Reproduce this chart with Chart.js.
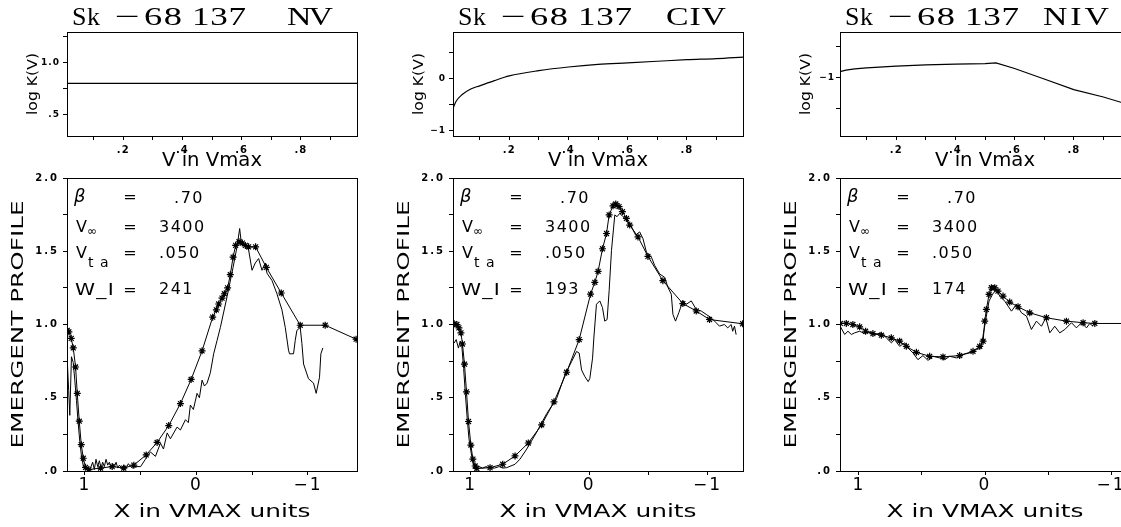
<!DOCTYPE html>
<html>
<head>
<meta charset="utf-8">
<script src="https://cdn.jsdelivr.net/npm/chart.js@4.4.1/dist/chart.umd.min.js"></script>
<style>
  html, body { margin: 0; padding: 0; background: #fff; overflow: hidden; width: 1121px; height: 527px; position: relative; }
  canvas { position: absolute; }
</style>
</head>
<body>
<canvas id="topNV" width="367" height="175" style="left:0px;top:0px"></canvas>
<canvas id="topCIV" width="367" height="175" style="left:386px;top:0px"></canvas>
<canvas id="topNIV" width="367" height="175" style="left:773px;top:0px"></canvas>
<canvas id="botNV" width="367" height="381" style="left:0px;top:146px"></canvas>
<canvas id="botCIV" width="367" height="381" style="left:386px;top:146px"></canvas>
<canvas id="botNIV" width="367" height="381" style="left:773px;top:146px"></canvas>
<script>
// --- top row: log K(V) against V/Vmax ---
const nvV = [0.01, 0.99];
const nvLogK = [0.80, 0.80];
const civV = [0.01, 0.02, 0.04, 0.07, 0.10, 0.15, 0.20, 0.30, 0.40, 0.50, 0.60, 0.70, 0.80, 0.90, 0.99];
const civLogK = [-0.57, -0.44, -0.31, -0.20, -0.14, -0.04, 0.05, 0.15, 0.22, 0.27, 0.30, 0.33, 0.36, 0.38, 0.41];
const nivV = [0.01, 0.03, 0.06, 0.10, 0.20, 0.30, 0.40, 0.50, 0.537, 0.60, 0.70, 0.80, 0.90, 0.99];
const nivLogK = [-0.90, -0.875, -0.855, -0.84, -0.81, -0.79, -0.78, -0.77, -0.76, -0.85, -1.02, -1.19, -1.31, -1.44];

// --- bottom row: emergent profile against X (Vmax units) ---
// model fit (asterisks)
const nvModelX = [1.158, 1.143, 1.122, 1.104, 1.083, 1.068, 1.050, 1.032, 1.014, 0.994, 0.964, 0.859, 0.755, 0.651, 0.561, 0.450, 0.352, 0.248, 0.143, 0.047, -0.051, -0.146, -0.179, -0.200, -0.230, -0.251, -0.280, -0.304, -0.329, -0.352, -0.382, -0.412, -0.439, -0.468, -0.531, -0.627, -0.761, -0.931, -1.155, -1.432];
const nvModelY = [0.96, 0.95, 0.905, 0.84, 0.71, 0.53, 0.34, 0.18, 0.087, 0.025, 0.01, 0.02, 0.03, 0.02, 0.04, 0.11, 0.195, 0.31, 0.46, 0.625, 0.82, 1.05, 1.10, 1.14, 1.18, 1.21, 1.25, 1.34, 1.46, 1.54, 1.565, 1.556, 1.54, 1.53, 1.53, 1.39, 1.215, 0.995, 0.995, 0.90];
const civModelX = [1.140, 1.117, 1.100, 1.083, 1.070, 1.053, 1.036, 1.019, 0.999, 0.982, 0.963, 0.949, 0.837, 0.730, 0.626, 0.514, 0.401, 0.297, 0.190, 0.084, -0.012, -0.048, -0.076, -0.113, -0.147, -0.169, -0.202, -0.225, -0.253, -0.281, -0.315, -0.343, -0.413, -0.497, -0.623, -0.792, -0.905, -1.017, -1.297];
const civModelY = [1.005, 1.0, 0.977, 0.943, 0.867, 0.729, 0.54, 0.338, 0.177, 0.081, 0.034, 0.017, 0.023, 0.046, 0.103, 0.191, 0.315, 0.472, 0.674, 0.897, 1.207, 1.288, 1.363, 1.517, 1.621, 1.748, 1.810, 1.823, 1.805, 1.770, 1.724, 1.679, 1.598, 1.465, 1.299, 1.143, 1.092, 1.034, 1.005];
const nivModelX = [1.148, 1.100, 1.048, 0.994, 0.947, 0.889, 0.822, 0.743, 0.677, 0.624, 0.544, 0.439, 0.333, 0.201, 0.095, 0.042, 0.015, 0.002, -0.011, -0.032, -0.051, -0.077, -0.103, -0.143, -0.196, -0.262, -0.355, -0.487, -0.646, -0.778, -0.871, -1.15];
const nivModelY = [1.007, 1.007, 1.0, 0.984, 0.954, 0.938, 0.927, 0.909, 0.886, 0.851, 0.81, 0.783, 0.779, 0.788, 0.817, 0.851, 0.886, 1.023, 1.103, 1.205, 1.251, 1.251, 1.228, 1.194, 1.153, 1.121, 1.080, 1.046, 1.023, 1.012, 1.007, 1.007];

// observed spectrum (thin line)
const nvObsX = [1.158, 1.145, 1.135, 1.120, 1.104, 1.090, 1.075, 1.060, 1.045, 1.030, 1.015, 1.000, 0.985, 0.970, 0.950, 0.930, 0.915, 0.900, 0.885, 0.870, 0.855, 0.840, 0.825, 0.810, 0.795, 0.780, 0.765, 0.750, 0.735, 0.720, 0.705, 0.690, 0.670, 0.650, 0.630, 0.610, 0.590, 0.570, 0.550, 0.500, 0.457, 0.412, 0.367, 0.322, 0.295, 0.262, 0.233, 0.173, 0.143, 0.098, 0.072, 0.054, 0.027, -0.006, -0.027, -0.051, -0.072, -0.096, -0.125, -0.155, -0.185, -0.215, -0.275, -0.329, -0.364, -0.388, -0.400, -0.439, -0.468, -0.499, -0.528, -0.558, -0.588, -0.618, -0.633, -0.678, -0.722, -0.767, -0.797, -0.826, -0.835, -0.871, -0.886, -0.901, -0.931, -0.946, -0.961, -1.005, -1.050, -1.074, -1.104, -1.116, -1.134];
const nvObsY = [0.76, 0.55, 0.38, 0.78, 0.74, 0.62, 0.48, 0.33, 0.20, 0.10, 0.04, 0.01, 0.02, 0.00, 0.02, 0.06, 0.01, 0.08, 0.03, 0.07, 0.02, 0.06, 0.03, 0.08, 0.04, 0.06, 0.02, 0.05, 0.03, 0.06, 0.02, 0.04, 0.02, 0.04, 0.02, 0.05, 0.03, 0.02, 0.03, 0.03, 0.08, 0.13, 0.10, 0.19, 0.15, 0.26, 0.22, 0.30, 0.28, 0.35, 0.33, 0.45, 0.42, 0.53, 0.50, 0.62, 0.58, 0.60, 0.67, 0.80, 0.89, 0.98, 1.19, 1.39, 1.53, 1.655, 1.575, 1.53, 1.51, 1.37, 1.42, 1.45, 1.37, 1.42, 1.35, 1.30, 1.21, 1.10, 0.98, 0.825, 0.80, 0.80, 0.89, 0.96, 0.98, 0.87, 0.73, 0.63, 0.60, 0.53, 0.64, 0.80, 0.84];
const civObsX = [1.140, 1.123, 1.104, 1.089, 1.075, 1.060, 1.045, 1.030, 1.015, 1.000, 0.985, 0.970, 0.955, 0.930, 0.900, 0.870, 0.840, 0.800, 0.760, 0.730, 0.696, 0.626, 0.584, 0.527, 0.443, 0.359, 0.275, 0.205, 0.148, 0.106, 0.084, 0.064, 0.036, 0.008, -0.006, -0.029, -0.040, -0.062, -0.090, -0.113, -0.132, -0.152, -0.169, -0.189, -0.217, -0.236, -0.259, -0.286, -0.315, -0.357, -0.393, -0.427, -0.455, -0.484, -0.526, -0.554, -0.596, -0.638, -0.666, -0.694, -0.708, -0.730, -0.758, -0.792, -0.821, -0.863, -0.905, -0.947, -0.989, -1.031, -1.073, -1.101, -1.143, -1.171, -1.200, -1.213, -1.228, -1.242];
const civObsY = [0.874, 0.897, 0.839, 0.886, 0.85, 0.70, 0.52, 0.36, 0.22, 0.14, 0.07, 0.03, 0.02, 0.03, 0.02, 0.03, 0.02, 0.02, 0.03, 0.02, 0.023, 0.046, 0.081, 0.15, 0.265, 0.391, 0.494, 0.655, 0.747, 0.816, 0.805, 0.69, 0.644, 0.61, 0.632, 0.77, 0.908, 1.138, 1.161, 1.115, 1.023, 1.034, 1.230, 1.506, 1.748, 1.736, 1.759, 1.736, 1.713, 1.667, 1.610, 1.632, 1.586, 1.494, 1.460, 1.403, 1.345, 1.322, 1.253, 1.207, 1.069, 1.023, 1.081, 1.161, 1.138, 1.161, 1.103, 1.092, 1.069, 1.046, 1.012, 0.989, 1.0, 0.977, 1.0, 0.954, 0.989, 0.931];
const nivObsX = [1.148, 1.113, 1.087, 1.060, 1.034, 0.994, 0.955, 0.915, 0.875, 0.822, 0.783, 0.743, 0.717, 0.677, 0.637, 0.611, 0.571, 0.532, 0.492, 0.452, 0.413, 0.360, 0.320, 0.280, 0.227, 0.175, 0.121, 0.068, 0.029, 0.016, -0.011, -0.032, -0.059, -0.090, -0.117, -0.156, -0.210, -0.249, -0.289, -0.329, -0.368, -0.408, -0.448, -0.482, -0.514, -0.553, -0.593, -0.633, -0.686, -0.725, -0.765, -0.805, -0.831, -0.857];
const nivObsY = [0.988, 0.932, 0.954, 0.932, 0.943, 0.954, 0.938, 0.950, 0.932, 0.943, 0.909, 0.875, 0.897, 0.851, 0.875, 0.840, 0.806, 0.760, 0.788, 0.755, 0.783, 0.772, 0.760, 0.783, 0.772, 0.795, 0.806, 0.829, 0.840, 0.920, 1.057, 1.160, 1.205, 1.240, 1.194, 1.160, 1.091, 1.137, 1.080, 1.057, 0.966, 1.023, 0.988, 1.046, 0.943, 0.988, 0.943, 0.966, 1.012, 0.977, 1.012, 0.977, 1.007, 0.988];

// fit parameters printed in the panels
const betaText = '.70';
const vinfText = '3400';
const vtaText = '.050';
const wlText = ['241', '193', '174'];
const ions = ['NV', 'CIV', 'NIV'];

const pts = (xs, ys) => xs.map((x, i) => ({ x: x, y: ys[i] }));

// draw text scaled to a given width (the original font is a wide stroke font)
function fitText(ctx, str, x, y, font, width, rot, align, base) {
  ctx.save();
  ctx.font = font;
  ctx.translate(x, y);
  if (rot) ctx.rotate(rot);
  const w = ctx.measureText(str).width;
  if (width) ctx.scale(width / w, 1);
  ctx.textAlign = align || 'center';
  ctx.textBaseline = base || 'alphabetic';
  ctx.fillText(str, 0, 0);
  ctx.restore();
}

// left-aligned text with glyphs widened by sx, then gaps filling the width
function wideText(ctx, str, x, y, font, width, sx) {
  ctx.save();
  ctx.font = font;
  ctx.letterSpacing = '0px';
  const w = ctx.measureText(str).width * sx;
  const gap = str.length > 1 ? (width - w) / (str.length - 1) / sx : 0;
  ctx.translate(x, y);
  ctx.scale(sx, 1);
  ctx.letterSpacing = gap.toFixed(2) + 'px';
  ctx.textAlign = 'left';
  ctx.textBaseline = 'alphabetic';
  ctx.fillText(str, 0, 0);
  ctx.restore();
}

const serif = '26px "Liberation Serif"';

const deco = {
  id: 'deco',
  beforeDraw(chart, args, o) {
    chart.ctx.letterSpacing = o.tickSpacing || '0px';
  },
  afterDraw(chart, args, o) {
    const ctx = chart.ctx, a = chart.chartArea;
    ctx.save();
    ctx.letterSpacing = '0px';
    ctx.fillStyle = '#000';
    ctx.strokeStyle = '#000';
    ctx.lineWidth = 1;
    const l = Math.round(a.left) + 0.5, t = Math.round(a.top) + 0.5;
    ctx.strokeRect(l, t, Math.round(a.right) - Math.round(a.left), Math.round(a.bottom) - Math.round(a.top));
    const midX = (a.left + a.right) / 2, midY = (a.top + a.bottom) / 2;
    if (o.kind === 'top') {
      const by = a.top - 7;
      wideText(ctx, 'Sk', a.left + 5, by, serif, 28, 1.0);
      fitText(ctx, '\u2212', a.left + 48, by, serif, 25, 0, 'left');
      wideText(ctx, '68', a.left + 77, by, serif, 38, 1.4);
      wideText(ctx, '137', a.left + 125, by, serif, 54, 1.35);
      wideText(ctx, o.ion, a.left + o.ionX, by, serif, o.ionW, 1.3);
      fitText(ctx, 'log K(V)', a.left - 34, midY, '14px "DejaVu Sans"', 62, -Math.PI / 2, 'center', 'middle');
      fitText(ctx, 'V in Vmax', midX, a.bottom + 30, '19px "DejaVu Sans"', 100, 0, 'center');
    } else {
      fitText(ctx, 'EMERGENT PROFILE', a.left - 48, midY, '16px "DejaVu Sans"', 248, -Math.PI / 2, 'center', 'middle');
      fitText(ctx, 'X in VMAX units', midX, a.bottom + 46, '18px "DejaVu Sans"', 197, 0, 'center');
      const L = a.left, T = a.top;
      ctx.textBaseline = 'alphabetic';
      ctx.textAlign = 'left';
      ctx.font = 'italic 18px "DejaVu Sans"';
      ctx.fillText('\u03b2', L + 7, T + 24);
      ctx.font = '16px "DejaVu Sans"';
      ctx.fillText('V', L + 9, T + 54);
      ctx.fillText('V', L + 9, T + 80);
      ctx.font = '12px "DejaVu Sans"';
      ctx.fillText('\u221e', L + 20, T + 57);
      ctx.font = '14px "DejaVu Sans"';
      ctx.letterSpacing = '1px';
      ctx.fillText('t a', L + 21, T + 89);
      fitText(ctx, 'W_I', L + 8, T + 117, '16px "DejaVu Sans"', 40, 0, 'left');
      ctx.font = '16px "DejaVu Sans"';
      ctx.letterSpacing = '0px';
      ctx.textAlign = 'center';
      [24, 54, 80, 117].forEach(dy => ctx.fillText('=', L + 63, T + dy));
      ctx.letterSpacing = '1.5px';
      ctx.textAlign = 'right';
      ctx.fillText(betaText, L + 137, T + 25);
      ctx.textAlign = 'left';
      ctx.fillText(vinfText, L + 92, T + 54);
      ctx.fillText(vtaText, L + 92, T + 80);
      ctx.fillText(o.wl, L + 92, T + 116);
    }
    ctx.restore();
  }
};

// tick label formats
const fmtTenth = v => {
  const n = Math.round(v * 10);
  return (Math.abs(v * 10 - n) < 1e-6 && n % 2 === 0 && n > 0 && n < 10) ? '.' + n : '';
};
const fmtHalf = v => {
  if (Math.abs(v * 2 - Math.round(v * 2)) > 1e-6) return '';
  const s = v.toFixed(1);
  return s.startsWith('0') ? s.slice(1) : s;
};
const fmtInt = v => {
  if (Math.abs(v - Math.round(v)) > 1e-6) return '';
  const n = Math.round(v);
  return n < 0 ? '\u2212' + (-n) : String(n);
};

function axisBase(pos, size) {
  return {
    type: 'linear',
    position: pos,
    grid: { drawOnChartArea: false, drawTicks: true, tickLength: 4, color: '#000', tickWidth: 1 },
    border: { display: true, color: '#000', width: 1 },
    afterFit: s => { if (pos === 'left') s.width = size; else s.height = size; }
  };
}

function topChart(id, xs, ys, yMin, yMax, yFmt, ion, ionX, ionW, yPad, smooth) {
  const x = axisBase('bottom', 39);
  Object.assign(x, {
    min: 0.01, max: 0.99,
    ticks: { stepSize: 0.1, includeBounds: false, autoSkip: false, maxRotation: 0, padding: 4,
             color: '#000', font: { family: 'DejaVu Sans', size: 10, weight: 'bold' }, callback: fmtTenth }
  });
  const y = axisBase('left', 67);
  Object.assign(y, {
    min: yMin, max: yMax,
    ticks: { stepSize: yFmt === fmtInt ? 0.5 : 0.25, includeBounds: false, autoSkip: false, padding: yPad,
             color: '#000', font: { family: 'DejaVu Sans', size: 9, weight: 'bold' }, callback: yFmt }
  });
  return new Chart(document.getElementById(id), {
    type: 'scatter',
    data: { datasets: [{
      data: pts(xs, ys), showLine: true, borderColor: '#000', borderWidth: 1.2,
      pointRadius: 0, cubicInterpolationMode: smooth ? 'monotone' : 'default'
    }] },
    options: {
      responsive: false, animation: false,
      layout: { padding: { top: 32, left: 0, right: 10, bottom: 0 } },
      plugins: { legend: { display: false }, tooltip: { enabled: false },
                 deco: { kind: 'top', ion: ion, ionX: ionX, ionW: ionW, tickSpacing: '1px' } },
      scales: { x: x, y: y }
    },
    plugins: [deco]
  });
}

function botChart(id, mx, my, ox, oy, xMin, xMax, wl) {
  const x = axisBase('bottom', 56);
  Object.assign(x, {
    min: xMin, max: xMax, reverse: true,
    ticks: { stepSize: 0.5, includeBounds: false, autoSkip: false, maxRotation: 0, padding: 0,
             color: '#000', font: { family: 'DejaVu Sans', size: 17 }, callback: fmtInt }
  });
  const y = axisBase('left', 67);
  Object.assign(y, {
    min: 0, max: 2,
    ticks: { stepSize: 0.25, includeBounds: false, autoSkip: false, padding: 4,
             color: '#000', font: { family: 'DejaVu Sans', size: 10, weight: 'bold' }, callback: fmtHalf }
  });
  return new Chart(document.getElementById(id), {
    type: 'scatter',
    data: { datasets: [
      { data: pts(ox, oy), showLine: true, borderColor: '#000', borderWidth: 1, pointRadius: 0 },
      { data: pts(mx, my), showLine: true, borderColor: '#000', borderWidth: 1,
        pointStyle: 'star', pointRadius: 3.5, pointBorderColor: '#000', pointBorderWidth: 1.2 }
    ] },
    options: {
      responsive: false, animation: false,
      layout: { padding: { top: 32, left: 0, right: 10, bottom: 0 } },
      plugins: { legend: { display: false }, tooltip: { enabled: false },
                 deco: { kind: 'bottom', wl: wl, tickSpacing: '2px' } },
      scales: { x: x, y: y }
    },
    plugins: [deco]
  });
}

topChart('topNV', nvV, nvLogK, 0.30, 1.29, fmtHalf, ions[0], 220, 46, 3, false);
topChart('topCIV', civV, civLogK, -1.10, 0.89, fmtInt, ions[1], 213, 60, 3, true);
topChart('topNIV', nivV, nivLogK, -1.94, -0.26, fmtInt, ions[2], 203, 66, 1, false);
botChart('botNV', nvModelX, nvModelY, nvObsX, nvObsY, -1.44, 1.16, wlText[0]);
botChart('botCIV', civModelX, civModelY, civObsX, civObsY, -1.30, 1.15, wlText[1]);
botChart('botNIV', nivModelX, nivModelY, nivObsX, nivObsY, -1.15, 1.15, wlText[2]);
</script>
</body>
</html>
